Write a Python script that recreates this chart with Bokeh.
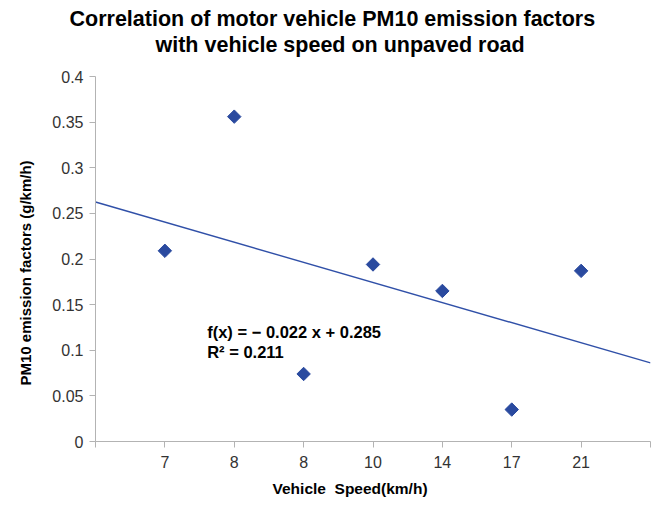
import numpy as np
from bokeh.plotting import figure
from bokeh.models import FixedTicker, CustomJSTickFormatter, Label, ColumnDataSource, Title
from bokeh.embed import file_html
from bokeh.resources import INLINE

# data
speed_labels = ["7", "8", "8", "10", "14", "17", "21"]
pm10 = [0.209, 0.356, 0.074, 0.194, 0.165, 0.035, 0.187]
y_ticks = [0, 0.05, 0.1, 0.15, 0.2, 0.25, 0.3, 0.35, 0.4]
title_lines = ["Correlation of motor vehicle PM10 emission factors",
               "with vehicle speed on unpaved road"]
x_title = "Vehicle\u00a0 Speed(km/h)"
y_title = "PM10 emission factors (g/km/h)"
fit_text = "f(x) = \u2212 0.022 x + 0.285"
r2_text = "R\u00b2 = 0.211"

pos = list(range(1, len(speed_labels) + 1))
slope, intercept = np.polyfit(pos, pm10, 1)

FONT = "Liberation Sans"
BLUE = "#2a4a9f"
AXIS = "#b3b3b3"

p = figure(width=652, height=505, output_backend="svg", toolbar_location=None,
           title=None,
           x_range=(0, len(speed_labels) + 1), y_range=(0, 0.4),
           min_border_left=95, min_border_right=2, min_border_top=76,
           min_border_bottom=64)
p.outline_line_color = None
p.grid.visible = False
p.background_fill_color = "white"

# regression line
xs = [0, len(speed_labels) + 1]
p.line(xs, [intercept + slope * x for x in xs], line_color="#3050a8", line_width=1.4)

src = ColumnDataSource(dict(x=pos, y=pm10))
p.scatter("x", "y", source=src, marker="square", size=9.5, angle=np.pi / 4,
          fill_color=BLUE, line_color=BLUE)

# axes
xa = p.xaxis[0]
xa.ticker = FixedTicker(ticks=list(range(0, len(speed_labels) + 2)))
overrides = {i + 1: lab for i, lab in enumerate(speed_labels)}
overrides[0] = ""
overrides[len(speed_labels) + 1] = ""
xa.major_label_overrides = overrides

ya = p.yaxis[0]
ya.ticker = FixedTicker(ticks=y_ticks)
ya.formatter = CustomJSTickFormatter(code="return String(parseFloat(tick.toFixed(2)));")

for ax in (xa, ya):
    ax.axis_line_color = AXIS
    ax.major_tick_line_color = AXIS
    ax.major_tick_out = 6
    ax.major_tick_in = 0
    ax.minor_tick_line_color = None
    ax.major_label_text_font = FONT
    ax.major_label_text_font_size = "16px"
    ax.major_label_text_color = "#333333"

xa.major_label_standoff = 8
ya.major_label_standoff = 6

def title(text, size, loc, offset, standoff, valign="bottom"):
    t = Title(text=text, align="left", offset=offset, standoff=standoff,
              vertical_align=valign,
              text_font=FONT, text_font_size=size, text_font_style="bold",
              text_color="#000000")
    p.add_layout(t, loc)

title(title_lines[1], "21.5px", "above", 60, 40)
title(title_lines[0], "21.5px", "above", -26, -40)
title(x_title, "15.5px", "below", 177, 14)
title(y_title, "15px", "left", 56, 30, "middle")

# regression annotation
for txt, yy in ((fit_text, 0.1195), (r2_text, 0.0986)):
    p.add_layout(Label(x=1.61, y=yy, text=txt, text_font=FONT, text_font_size="16.5px",
                       text_font_style="bold", text_baseline="middle",
                       text_color="#000000"))

open("out.html", "w").write(file_html(p, INLINE))
